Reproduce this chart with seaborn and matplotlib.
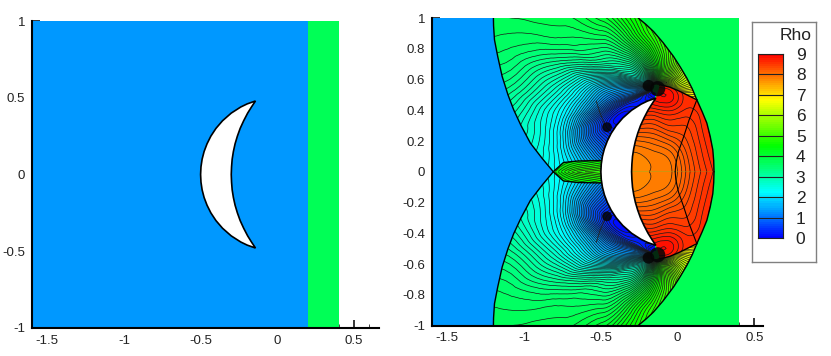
import numpy as np
import matplotlib
matplotlib.use('Agg')
import matplotlib.pyplot as plt
from matplotlib.colors import Normalize
from matplotlib.patches import Polygon
from matplotlib.tri import Triangulation, UniformTriRefiner
import seaborn as sns

# rho either side of the incoming shock
rho_ahead = 1.35
rho_behind = 3.75

# crescent, upper half, from the axis to the tip and back
outer_x = [-0.5, -0.4975, -0.49, -0.477, -0.458, -0.433, -0.4, -0.357, -0.3, -0.2375, -0.196, -0.142]
outer_y = [0.0, 0.05, 0.1, 0.15, 0.2, 0.25, 0.3, 0.35, 0.4, 0.44, 0.46, 0.479]
inner_x = [-0.142, -0.168, -0.193, -0.219, -0.242, -0.26, -0.275, -0.286, -0.294, -0.298, -0.3]
inner_y = [0.479, 0.44, 0.4, 0.35, 0.3, 0.25, 0.2, 0.15, 0.1, 0.05, 0.0]

# shock fronts, upper half
left_x = [-1.2, -1.199, -1.193, -1.172, -1.143, -1.105, -1.068, -1.02, -0.959, -0.885, -0.81]
left_y = [1.0, 0.95, 0.858, 0.75, 0.62, 0.5, 0.403, 0.3, 0.186, 0.09, 0.0]
right_x = [-0.257, -0.205, -0.157, -0.095, -0.027, 0.018, 0.06, 0.095, 0.125]
right_y = [1.0, 0.957, 0.912, 0.84, 0.75, 0.68, 0.609, 0.54, 0.468]
bulge_x = [0.125, 0.16, 0.19, 0.212, 0.229, 0.235, 0.237]
bulge_y = [0.468, 0.39, 0.317, 0.23, 0.143, 0.07, 0.0]
reflect_x = [-0.114, -0.05, 0.016, 0.125]
reflect_y = [0.566, 0.55, 0.522, 0.468]
slip_x = [0.125, 0.075, 0.04, 0.005, -0.012, -0.016]
slip_y = [0.468, 0.338, 0.23, 0.13, 0.05, 0.0]
lens_x = [-0.81, -0.744, -0.65, -0.49]
lens_y = [0.0, 0.06, 0.07, 0.073]
kink_x = [-0.53, -0.505, -0.47]
kink_y = [0.46, 0.38, 0.3]

# dark knots where the contours bunch up
knot_x = [-0.46, -0.19, -0.13]
knot_y = [0.29, 0.56, 0.54]
knot_s = [50, 70, 120]

# expansion fan, rho by angle and distance around the tip
fan_cx = -0.14
fan_cy = 0.54
fan_angle = [-30, -15, 0, 30, 60, 90, 120, 150, 165, 180, 195, 205, 214, 222, 235, 260]
fan_radius = [0.03, 0.08, 0.2, 0.4, 0.7, 1.0, 1.4]
fan_rho = [
    [7.0, 7.0, 7.0, 7.0, 7.0, 7.0, 7.0],
    [6.8, 6.8, 6.9, 6.9, 6.9, 6.9, 6.9],
    [6.4, 6.4, 6.5, 6.6, 6.6, 6.6, 6.6],
    [5.6, 5.6, 5.9, 6.0, 6.0, 6.0, 6.0],
    [4.8, 4.9, 5.2, 5.4, 5.4, 5.4, 5.4],
    [4.0, 4.2, 4.5, 4.9, 4.9, 4.9, 4.9],
    [3.0, 3.2, 3.6, 4.1, 4.3, 4.4, 4.4],
    [2.3, 2.4, 2.8, 3.3, 3.7, 3.8, 3.9],
    [1.8, 1.9, 2.2, 2.7, 3.3, 3.6, 3.7],
    [1.2, 1.3, 1.45, 1.9, 2.8, 3.3, 3.5],
    [0.8, 0.9, 1.0, 1.4, 2.4, 2.9, 3.1],
    [0.4, 0.4, 0.45, 0.8, 2.2, 2.7, 2.9],
    [0.25, 0.25, 0.25, 0.35, 2.0, 2.5, 2.6],
    [0.2, 0.2, 0.2, 0.3, 1.9, 2.3, 2.4],
    [0.2, 0.2, 0.2, 0.3, 1.8, 2.1, 2.2],
    [0.2, 0.2, 0.2, 0.3, 1.7, 2.0, 2.1],
]

# high density region behind the crescent
hot_x = [-0.35, -0.25, -0.15, -0.05, 0.05, 0.15, 0.25]
hot_y = [0.0, 0.1, 0.2, 0.3, 0.4, 0.5, 0.6]
hot_rho = [
    [7.75, 7.8, 7.85, 7.9, 8.15, 8.4, 8.6],
    [7.8, 7.82, 7.88, 7.95, 8.2, 8.45, 8.65],
    [8.0, 8.0, 8.05, 8.15, 8.3, 8.5, 8.7],
    [8.3, 8.3, 8.3, 8.4, 8.4, 8.55, 8.7],
    [8.6, 8.6, 8.6, 8.65, 8.55, 8.6, 8.7],
    [8.7, 8.8, 8.85, 8.85, 8.6, 8.6, 8.7],
    [8.7, 8.7, 8.6, 8.5, 8.4, 8.4, 8.5],
]

# small lens in front of the crescent
pocket_x = [-0.84, -0.75, -0.65, -0.55, -0.46]
pocket_y = [0.0, 0.04, 0.09]
pocket_rho = [
    [4.2, 4.6, 4.9, 5.0, 5.1],
    [4.1, 4.4, 4.6, 4.7, 4.8],
    [4.0, 4.2, 4.3, 4.4, 4.5],
]

bar_ticks = [0, 1, 2, 3, 4, 5, 6, 7, 8, 9]

sns.set_theme(style='ticks')
plt.rcParams['font.family'] = ['Liberation Sans', 'DejaVu Sans']
plt.rcParams['axes.unicode_minus'] = False

W, H = 831, 356
cmap = sns.blend_palette(['#0000ff', '#00ffff', '#00ff00', '#ffff00', '#ff0000'], n_colors=256, as_cmap=True)
norm = Normalize(0, 9)
levels = np.arange(0, 9.05, 0.08)


def px_axes(x0, x1, y0, y1):
    return fig.add_axes([x0 / W, 1 - y1 / H, (x1 - x0) / W, (y1 - y0) / H])


def style_axes(ax, xmax, ymajor, yminor, ylabels):
    ax.set_xlim(-1.6, xmax)
    ax.set_ylim(-1, 1)
    sns.despine(ax=ax)
    for side in ['left', 'bottom']:
        ax.spines[side].set_linewidth(1.5)
        ax.spines[side].set_color('black')
        ax.spines[side].set_zorder(10)
    ax.set_xticks([-1.5, -1, -0.5, 0, 0.5])
    ax.set_xticklabels(['-1.5', '-1', '-0.5', '0', '0.5'])
    ax.set_xticks(np.arange(-1.5, xmax, 0.1), minor=True)
    ax.set_yticks(ymajor)
    ax.set_yticklabels(ylabels)
    ax.set_yticks(yminor, minor=True)
    ax.tick_params(which='major', direction='in', length=5.5, width=1.1, color='black',
                   labelsize=9.5, labelcolor='#222222', pad=5)
    ax.tick_params(which='minor', direction='in', length=2.8, width=0.6, color='#222222')
    ax.set_facecolor('white')


def grid_triangles(rows, cols):
    tris = []
    for i in range(rows - 1):
        for j in range(cols - 1):
            a = i * cols + j
            tris.append([a, a + 1, a + cols])
            tris.append([a + 1, a + cols + 1, a + cols])
    return np.array(tris)


def draw_zone(ax, x, y, z, poly_x, poly_y, subdiv=3):
    rows, cols = np.shape(z)
    tri = Triangulation(np.ravel(x), np.ravel(y), grid_triangles(rows, cols))
    fine, fine_z = UniformTriRefiner(tri).refine_field(np.ravel(z), subdiv=subdiv)
    for sign in [1, -1]:
        patch = Polygon(np.column_stack([poly_x, sign * np.array(poly_y)]), transform=ax.transData)
        mesh = Triangulation(fine.x, sign * fine.y, fine.triangles)
        filled = ax.tricontourf(mesh, fine_z, levels=levels, cmap=cmap, norm=norm, extend='both')
        filled.set_clip_path(patch)
        lines = ax.tricontour(mesh, fine_z, levels=levels, colors='#1a1a1a', linewidths=0.5)
        lines.set_clip_path(patch)


def draw_line(ax, x, y, lw=1.0, color='black'):
    for sign in [1, -1]:
        sns.lineplot(x=x, y=sign * np.array(y), sort=False, estimator=None, color=color, linewidth=lw, ax=ax)


def draw_body(ax):
    xs = np.array(outer_x + inner_x[1:])
    ys = np.array(outer_y + inner_y[1:])
    ax.fill(np.r_[xs, xs[::-1]], np.r_[ys, -ys[::-1]], facecolor='white', edgecolor='black', linewidth=1.2, zorder=5)


fig = plt.figure(figsize=(W / 100, H / 100), dpi=100)

# left panel, initial state
ax1 = px_axes(32, 379, 21, 328)
ax1.pcolormesh([-1.6, 0.2, 0.4], [-1, 1], [[rho_ahead, rho_behind]], cmap=cmap, norm=norm)
draw_body(ax1)
style_axes(ax1, 0.664, [-1, -0.5, 0, 0.5, 1], np.arange(-1, 1.01, 0.1), ['-1', '-0.5', '0', '0.5', '1'])

# right panel, after the shock has passed
ax2 = px_axes(432, 763, 18, 325.5)
ax2.pcolormesh([-1.6, 0.4], [-1, 1], [[rho_behind]], cmap=cmap, norm=norm)
ahead_x = [-1.6] + left_x + left_x[-2::-1] + [-1.6]
ahead_y = [1.0] + left_y + [-v for v in left_y[-2::-1]] + [-1.0]
ax2.fill(ahead_x, ahead_y, color=cmap(norm(rho_ahead)), linewidth=0)

ang = np.deg2rad(np.array(fan_angle))
rad = np.array(fan_radius)
fan_x = fan_cx + np.outer(np.cos(ang), rad)
fan_y = fan_cy + np.outer(np.sin(ang), rad)
fan_poly_x = left_x + lens_x[1:] + outer_x[2:] + reflect_x + right_x[::-1]
fan_poly_y = left_y + lens_y[1:] + outer_y[2:] + reflect_y + right_y[::-1]
draw_zone(ax2, fan_x, fan_y, fan_rho, fan_poly_x, fan_poly_y)

hx, hy = np.meshgrid(hot_x, hot_y)
hot_poly_x = reflect_x + bulge_x[1:] + inner_x[::-1]
hot_poly_y = reflect_y + bulge_y[1:] + inner_y[::-1]
draw_zone(ax2, hx, hy, hot_rho, hot_poly_x, hot_poly_y)

px, py = np.meshgrid(pocket_x, pocket_y)
pocket_poly_x = lens_x + [lens_x[-1]]
pocket_poly_y = lens_y + [0.0]
draw_zone(ax2, px, py, pocket_rho, pocket_poly_x, pocket_poly_y, subdiv=1)

for sign in [1, -1]:
    sns.scatterplot(x=knot_x, y=sign * np.array(knot_y), size=knot_s, sizes=(min(knot_s), max(knot_s)),
                    color='#050505', alpha=0.85, linewidth=0, legend=False, ax=ax2, zorder=4)

draw_line(ax2, left_x, left_y)
draw_line(ax2, right_x, right_y)
draw_line(ax2, bulge_x, bulge_y)
draw_line(ax2, reflect_x, reflect_y)
draw_line(ax2, slip_x, slip_y, lw=0.8)
draw_line(ax2, lens_x, lens_y)
draw_line(ax2, kink_x, kink_y, lw=0.6, color='#222222')
draw_body(ax2)
style_axes(ax2, 0.556, np.round(np.arange(-1, 1.01, 0.2), 1), np.arange(-1, 1.01, 0.05),
           ['-1', '-0.8', '-0.6', '-0.4', '-0.2', '0', '0.2', '0.4', '0.6', '0.8', '1'])

# legend box
box = px_axes(751.7, 816.3, 22, 261.7)
box.set_xticks([])
box.set_yticks([])
for s in box.spines.values():
    s.set_color('#808080')
    s.set_linewidth(1.0)
box.text(0.92, 0.945, 'Rho', transform=box.transAxes, ha='right', va='center', fontsize=12.5, color='#222222')

bar = px_axes(758, 783.3, 54, 238.3)
bar_rows = np.arange(8.95, 0, -0.1)
sns.heatmap(bar_rows.reshape(-1, 1), cmap=cmap, norm=norm, cbar=False, ax=bar, xticklabels=False, yticklabels=False)
n_rows = len(bar_rows)
for v in bar_ticks:
    bar.axhline((9 - v) / 9 * n_rows, color='#222222', linewidth=0.8)
bar.set_yticks([(9 - v) / 9 * n_rows for v in bar_ticks])
bar.set_yticklabels([str(v) for v in bar_ticks], rotation=0)
bar.yaxis.tick_right()
bar.tick_params(axis='y', length=0, pad=9, labelsize=12.5, labelcolor='#222222')
for s in ['left', 'right', 'top', 'bottom']:
    bar.spines[s].set_visible(True)
    bar.spines[s].set_color('#222222')
    bar.spines[s].set_linewidth(0.8)

fig.savefig('out.png', dpi=100)
